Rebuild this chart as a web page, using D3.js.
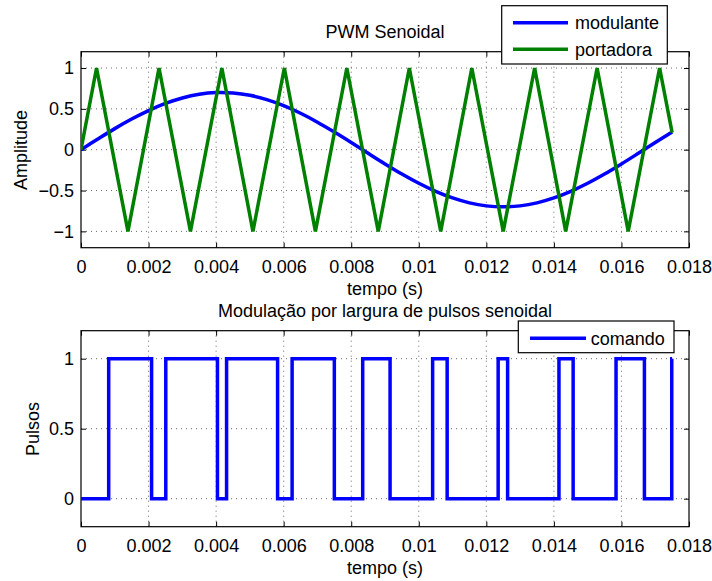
<!DOCTYPE html>
<html>
<head>
<meta charset="utf-8">
<script src="https://d3js.org/d3.v7.min.js"></script>
<style>
  body { margin: 0; background: #fff; }
  svg text { font-family: "Liberation Sans", Arial, sans-serif; fill: #000; }
</style>
</head>
<body>
<svg class="chart" width="712" height="581"></svg>
<script>
// sinal modulante (amostrado a cada 0.5 ms)
const tempoSeno = [0, 0.0005, 0.001, 0.0015, 0.002, 0.0025, 0.003, 0.0035, 0.004, 0.0045,
  0.005, 0.0055, 0.006, 0.0065, 0.007, 0.0075, 0.008, 0.0085, 0.009, 0.0095,
  0.01, 0.0105, 0.011, 0.0115, 0.012, 0.0125, 0.013, 0.0135, 0.014, 0.0145,
  0.015, 0.0155, 0.016, 0.0165, 0.017, 0.0175];
const modulante = [0, 0.131, 0.258, 0.375, 0.479, 0.566, 0.633, 0.678, 0.699, 0.694,
  0.666, 0.613, 0.539, 0.446, 0.337, 0.216, 0.088, -0.044, -0.174, -0.298,
  -0.411, -0.510, -0.591, -0.651, -0.688, -0.700, -0.688, -0.651, -0.591, -0.510,
  -0.411, -0.298, -0.174, -0.044, 0.088, 0.216];

// portadora triangular (vertices)
const tempoPortadora = [0, 0.00046, 0.00139, 0.00231, 0.00324, 0.00417, 0.00509, 0.00602, 0.00694,
  0.00787, 0.0088, 0.00972, 0.01065, 0.01157, 0.0125, 0.01343, 0.01435, 0.01528, 0.0162, 0.01713, 0.0175];
const portadora = [0, 1, -1, 1, -1, 1, -1, 1, -1, 1, -1, 1, -1, 1, -1, 1, -1, 1, -1, 1, 0.21];

// pulsos de comando (instantes de comutacao)
const tempoPulsos = [0, 0.00082, 0.00209, 0.00251, 0.00404, 0.00431, 0.00582, 0.00625, 0.0075,
  0.00834, 0.00915, 0.01041, 0.01084, 0.01235, 0.01263, 0.01415, 0.01457, 0.01584, 0.01668, 0.01749, 0.0175];
const comando = [0, 1, 0, 1, 0, 1, 0, 1, 0, 1, 0, 1, 0, 1, 0, 1, 0, 1, 0, 1, 1];

const xTicks = [0, 0.002, 0.004, 0.006, 0.008, 0.01, 0.012, 0.014, 0.016, 0.018];
const yTicksTop = [-1, -0.5, 0, 0.5, 1];
const yTicksBottom = [0, 0.5, 1];

const left = 81, right = 689;
const fs = 18;
const lw = 3.5;
const svg = d3.select('.chart');
const fmt = d => d === 0 ? '0' : String(d).replace('-', '\u2212');

function painel(top, height, yDomain, yTicks, id) {
  const xs = d3.scaleLinear().domain([0, 0.018]).range([left, right]);
  const ys = d3.scaleLinear().domain(yDomain).range([top + height, top]);
  const g = svg.append('g');

  // grid pontilhado
  g.selectAll('.gx').data(xTicks.slice(1, -1)).join('line')
    .attr('x1', d => xs(d)).attr('x2', d => xs(d))
    .attr('y1', top).attr('y2', top + height)
    .attr('stroke', '#444').attr('stroke-width', 0.8).attr('stroke-dasharray', '1,4');
  g.selectAll('.gy').data(yTicks).join('line')
    .attr('x1', left).attr('x2', right)
    .attr('y1', d => ys(d)).attr('y2', d => ys(d))
    .attr('stroke', '#444').attr('stroke-width', 0.8).attr('stroke-dasharray', '1,4');

  g.append('clipPath').attr('id', id).append('rect')
    .attr('x', left).attr('y', top).attr('width', right - left).attr('height', height);

  // eixos estilo matlab (ticks para dentro)
  const ax = g.append('g').attr('class', 'eixos');
  ax.append('g').attr('transform', `translate(0,${top + height})`)
    .call(d3.axisBottom(xs).tickValues(xTicks).tickSizeInner(-5).tickSizeOuter(0).tickPadding(13).tickFormat(fmt));
  ax.append('g').attr('transform', `translate(0,${top})`)
    .call(d3.axisTop(xs).tickValues(xTicks).tickSizeInner(-5).tickSizeOuter(0).tickFormat(''));
  ax.append('g').attr('transform', `translate(${left},0)`)
    .call(d3.axisLeft(ys).tickValues(yTicks).tickSizeInner(-5).tickSizeOuter(0).tickPadding(7).tickFormat(fmt));
  ax.append('g').attr('transform', `translate(${right},0)`)
    .call(d3.axisRight(ys).tickValues(yTicks).tickSizeInner(-5).tickSizeOuter(0).tickFormat(''));
  ax.selectAll('.domain').remove();
  ax.selectAll('line').attr('stroke', '#000');
  ax.selectAll('text').style('font-size', fs + 'px')
    .style('font-family', '"Liberation Sans", Arial, sans-serif');
  ax.append('rect').attr('x', left).attr('y', top).attr('width', right - left).attr('height', height)
    .attr('fill', 'none').attr('stroke', '#000').attr('stroke-width', 1.2);

  return { xs, ys, g };
}

// ---- painel superior
const p1 = painel(51.7, 196, [-1.2, 1.2], yTicksTop, 'clip1');
const linha1 = d3.line().curve(d3.curveCatmullRom);
p1.g.append('path')
  .attr('clip-path', 'url(#clip1)')
  .attr('d', linha1(tempoSeno.map((t, i) => [p1.xs(t), p1.ys(modulante[i])])))
  .attr('fill', 'none').attr('stroke', '#0000ff').attr('stroke-width', lw);
p1.g.append('path')
  .attr('clip-path', 'url(#clip1)')
  .attr('d', d3.line()(tempoPortadora.map((t, i) => [p1.xs(t), p1.ys(portadora[i])])))
  .attr('fill', 'none').attr('stroke', '#008000').attr('stroke-width', lw).attr('stroke-linejoin', 'miter');

svg.append('text').attr('x', 385).attr('y', 38).attr('text-anchor', 'middle')
  .style('font-size', fs + 'px').text('PWM Senoidal');
svg.append('text').attr('x', 385).attr('y', 295).attr('text-anchor', 'middle')
  .style('font-size', fs + 'px').text('tempo (s)');
svg.append('text').attr('transform', 'translate(27,150) rotate(-90)').attr('text-anchor', 'middle')
  .style('font-size', fs + 'px').text('Amplitude');

// legenda superior
const leg1 = svg.append('g');
leg1.append('rect').attr('x', 501.7).attr('y', 5.7).attr('width', 165.6).attr('height', 58.3)
  .attr('fill', '#fff').attr('stroke', '#000').attr('stroke-width', 1.2);
[['modulante', '#0000ff', 22.7], ['portadora', '#008000', 49.3]].forEach(([nome, cor, y]) => {
  leg1.append('line').attr('x1', 513).attr('x2', 568).attr('y1', y).attr('y2', y)
    .attr('stroke', cor).attr('stroke-width', lw);
  leg1.append('text').attr('x', 575).attr('y', y).attr('dy', '0.35em')
    .style('font-size', fs + 'px').text(nome);
});

// ---- painel inferior
const p2 = painel(330.7, 196, [-0.2, 1.2], yTicksBottom, 'clip2');
p2.g.append('path')
  .attr('clip-path', 'url(#clip2)')
  .attr('d', d3.line().curve(d3.curveStepAfter)(tempoPulsos.map((t, i) => [p2.xs(t), p2.ys(comando[i])])))
  .attr('fill', 'none').attr('stroke', '#0000ff').attr('stroke-width', lw);

svg.append('text').attr('x', 385).attr('y', 317).attr('text-anchor', 'middle')
  .style('font-size', fs + 'px').text('Modulação por largura de pulsos senoidal');
svg.append('text').attr('x', 385).attr('y', 574).attr('text-anchor', 'middle')
  .style('font-size', fs + 'px').text('tempo (s)');
svg.append('text').attr('transform', 'translate(39,429) rotate(-90)').attr('text-anchor', 'middle')
  .style('font-size', fs + 'px').text('Pulsos');

const leg2 = svg.append('g');
leg2.append('rect').attr('x', 518.3).attr('y', 321).attr('width', 155.7).attr('height', 31.7)
  .attr('fill', '#fff').attr('stroke', '#000').attr('stroke-width', 1.2);
leg2.append('line').attr('x1', 530).attr('x2', 586).attr('y1', 338.3).attr('y2', 338.3)
  .attr('stroke', '#0000ff').attr('stroke-width', lw);
leg2.append('text').attr('x', 590.7).attr('y', 338.3).attr('dy', '0.35em')
  .style('font-size', fs + 'px').text('comando');
</script>
</body>
</html>
